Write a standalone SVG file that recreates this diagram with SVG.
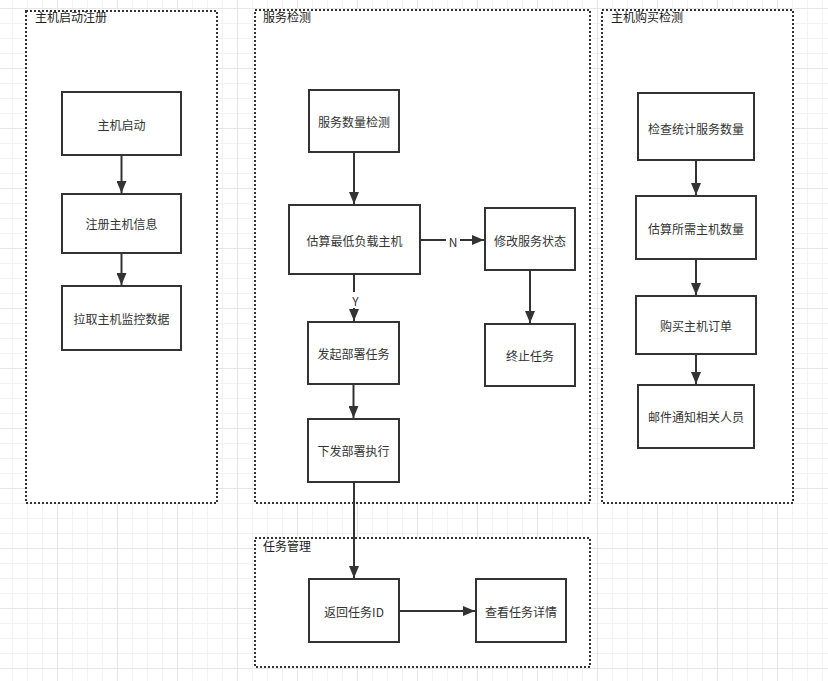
<svg xmlns="http://www.w3.org/2000/svg" width="828" height="681" viewBox="0 0 828 681">
<style>
.bg{fill:#ffffff}
.cont{fill:#ffffff;stroke:#333333;stroke-width:2;stroke-dasharray:2 2}
.ctitle{font-family:"Noto Sans CJK SC","Microsoft YaHei",sans-serif;font-size:12px;fill:#222222}
.box{fill:#ffffff;stroke:#333333;stroke-width:2}
.lbl{font-family:"Noto Sans CJK SC","Microsoft YaHei",sans-serif;font-size:12px;fill:#333333;text-anchor:middle;dominant-baseline:central}
.edge{fill:none;stroke:#333333;stroke-width:2}
.elbl{font-family:"Noto Sans CJK SC","Liberation Sans",sans-serif;font-size:12px;fill:#333333;text-anchor:middle;dominant-baseline:central}
</style>
<defs>
<pattern id="grid" patternUnits="userSpaceOnUse" x="57" y="8" width="60" height="60">
<rect x="15" y="0" width="1" height="60" fill="#f2f2f2"/>
<rect x="30" y="0" width="1" height="60" fill="#f2f2f2"/>
<rect x="45" y="0" width="1" height="60" fill="#f2f2f2"/>
<rect x="0" y="15" width="60" height="1" fill="#f2f2f2"/>
<rect x="0" y="30" width="60" height="1" fill="#f2f2f2"/>
<rect x="0" y="45" width="60" height="1" fill="#f2f2f2"/>
<rect x="0" y="0" width="1" height="60" fill="#e6e6e6"/>
<rect x="0" y="0" width="60" height="1" fill="#e6e6e6"/>
</pattern>
<marker id="arr" viewBox="0 0 12 10" refX="12" refY="5" markerWidth="12" markerHeight="10" markerUnits="userSpaceOnUse" orient="auto">
<path d="M0,0 L12,5 L0,10 z" fill="#333333"/>
</marker>
</defs>
<rect class="bg" x="0" y="0" width="828" height="681"/>
<rect x="0" y="0" width="828" height="681" fill="url(#grid)"/>

<g id="container-host-register">
<rect class="cont" x="26" y="11" width="191" height="492"/>
<text class="ctitle" x="35" y="22">主机启动注册</text>
</g>
<g id="container-service-check">
<rect class="cont" x="255" y="10" width="335" height="493"/>
<text class="ctitle" x="263" y="22">服务检测</text>
</g>
<g id="container-host-purchase">
<rect class="cont" x="602" y="10" width="191" height="493"/>
<text class="ctitle" x="611" y="22">主机购买检测</text>
</g>
<g id="container-task-manage">
<rect class="cont" x="255" y="538" width="335" height="129"/>
<text class="ctitle" x="263" y="551">任务管理</text>
</g>

<g id="node-host-start">
<rect class="box" x="62" y="92" width="119" height="63"/>
<text class="lbl" x="121.5" y="124">主机启动</text>
</g>
<g id="node-register-info">
<rect class="box" x="62" y="194" width="119" height="59"/>
<text class="lbl" x="121.5" y="223.5">注册主机信息</text>
</g>
<g id="node-pull-monitor">
<rect class="box" x="62" y="286" width="119" height="64"/>
<text class="lbl" x="121.5" y="318">拉取主机监控数据</text>
</g>

<g id="node-service-count">
<rect class="box" x="309" y="90" width="90" height="62"/>
<text class="lbl" x="354" y="121">服务数量检测</text>
</g>
<g id="node-estimate-min">
<rect class="box" x="289" y="205" width="131" height="69"/>
<text class="lbl" x="354.5" y="240">估算最低负载主机</text>
</g>
<g id="node-modify-status">
<rect class="box" x="485" y="208" width="90" height="62"/>
<text class="lbl" x="530" y="240">修改服务状态</text>
</g>
<g id="node-stop-task">
<rect class="box" x="485" y="324" width="90" height="62"/>
<text class="lbl" x="530" y="355">终止任务</text>
</g>
<g id="node-start-deploy">
<rect class="box" x="308" y="322" width="91" height="62"/>
<text class="lbl" x="353.5" y="353">发起部署任务</text>
</g>
<g id="node-dispatch-deploy">
<rect class="box" x="308" y="419" width="91" height="63"/>
<text class="lbl" x="353.5" y="450.5">下发部署执行</text>
</g>

<g id="node-return-id">
<rect class="box" x="309" y="579" width="90" height="63"/>
<text class="lbl" x="354" y="611">返回任务ID</text>
</g>
<g id="node-view-task">
<rect class="box" x="476" y="579" width="90" height="63"/>
<text class="lbl" x="521" y="611">查看任务详情</text>
</g>

<g id="node-check-count">
<rect class="box" x="638" y="93" width="116" height="67"/>
<text class="lbl" x="696" y="128">检查统计服务数量</text>
</g>
<g id="node-estimate-need">
<rect class="box" x="636" y="196" width="120" height="63"/>
<text class="lbl" x="696" y="228">估算所需主机数量</text>
</g>
<g id="node-buy-order">
<rect class="box" x="636" y="296" width="120" height="58"/>
<text class="lbl" x="696" y="325">购买主机订单</text>
</g>
<g id="node-mail-notify">
<rect class="box" x="638" y="385" width="116" height="63"/>
<text class="lbl" x="696" y="416">邮件通知相关人员</text>
</g>

<g id="connectors">
<path class="edge" d="M121.5,156 L121.5,193" marker-end="url(#arr)"/>
<path class="edge" d="M121.5,254 L121.5,285" marker-end="url(#arr)"/>
<path class="edge" d="M354,153 L354,204" marker-end="url(#arr)"/>
<path class="edge" d="M421,240 L484,240" marker-end="url(#arr)"/>
<path class="edge" d="M354,275 L354,321" marker-end="url(#arr)"/>
<path class="edge" d="M530,271 L530,323" marker-end="url(#arr)"/>
<path class="edge" d="M353.5,385 L353.5,418" marker-end="url(#arr)"/>
<path class="edge" d="M354,483 L354,578" marker-end="url(#arr)"/>
<path class="edge" d="M400,611 L475,611" marker-end="url(#arr)"/>
<path class="edge" d="M696,161 L696,195" marker-end="url(#arr)"/>
<path class="edge" d="M696,260 L696,295" marker-end="url(#arr)"/>
<path class="edge" d="M696,355 L696,384" marker-end="url(#arr)"/>
<rect x="446" y="233" width="14" height="15" fill="#ffffff"/>
<text class="elbl" x="453" y="241">N</text>
<rect x="349" y="292" width="13" height="16" fill="#ffffff"/>
<text class="elbl" x="355.5" y="300">Y</text>
</g>
</svg>
